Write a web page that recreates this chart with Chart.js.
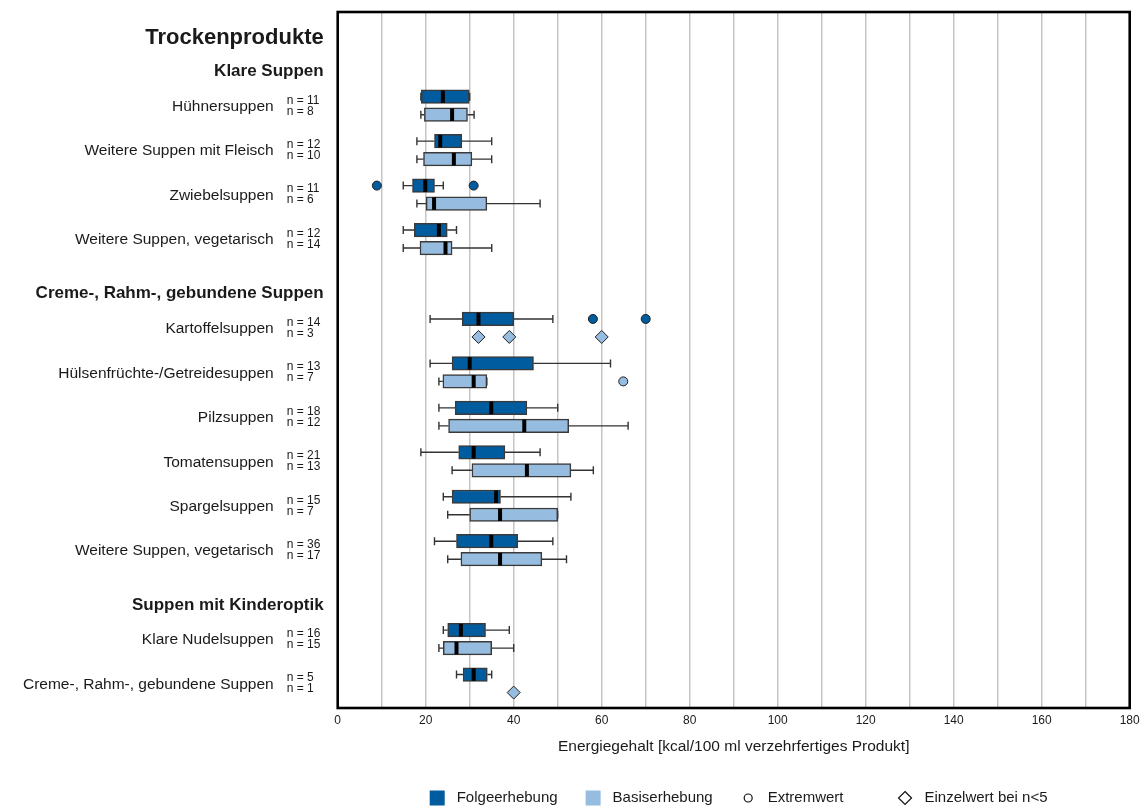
<!DOCTYPE html>
<html lang="de">
<head>
<meta charset="utf-8">
<title>Energiegehalt Trockenprodukte</title>
<script src="https://cdn.jsdelivr.net/npm/chart.js@4/dist/chart.umd.min.js"></script>
<style>
  html, body { margin: 0; padding: 0; background: #ffffff; }
  #wrap { width: 1146px; height: 807px; }
</style>
</head>
<body>
<div id="wrap"><canvas id="c" width="1146" height="807"></canvas></div>
<script>
// ---- Data -----------------------------------------------------------------
const groupTitle = 'Trockenprodukte';
const sections = ['Klare Suppen', 'Creme-, Rahm-, gebundene Suppen', 'Suppen mit Kinderoptik'];
const categories = [
  'Hühnersuppen', 'Weitere Suppen mit Fleisch', 'Zwiebelsuppen', 'Weitere Suppen, vegetarisch',
  'Kartoffelsuppen', 'Hülsenfrüchte-/Getreidesuppen', 'Pilzsuppen', 'Tomatensuppen',
  'Spargelsuppen', 'Weitere Suppen, vegetarisch',
  'Klare Nudelsuppen', 'Creme-, Rahm-, gebundene Suppen'
];
const sectionOf = [0, 0, 0, 0, 1, 1, 1, 1, 1, 1, 2, 2];
const nFolge = [11, 12, 11, 12, 14, 13, 18, 21, 15, 36, 16, 5];
const nBasis = [8, 10, 6, 14, 3, 7, 12, 13, 7, 17, 15, 1];

// Folgeerhebung: five-number summaries
const folgeMin    = [18.9, 18.0, 14.9, 14.9, 21.0, 21.0, 23.0, 18.9, 24.0, 22.0, 24.0, 27.0];
const folgeQ1     = [19.0, 22.0, 17.0, 17.4, 28.3, 26.0, 26.7, 27.5, 26.0, 27.0, 25.0, 28.5];
const folgeMedian = [23.9, 23.3, 19.9, 23.0, 32.0, 30.0, 34.9, 30.9, 36.0, 34.9, 28.0, 30.9];
const folgeQ3     = [29.9, 28.2, 22.0, 24.9, 40.0, 44.5, 43.0, 38.0, 37.0, 40.9, 33.6, 34.0];
const folgeMax    = [30.0, 35.0, 24.0, 27.0, 48.9, 62.0, 50.0, 46.0, 53.0, 48.9, 39.0, 35.0];
const folgeOutlierCat = [2, 2, 4, 4];
const folgeOutlierVal = [8.9, 30.9, 58.0, 70.0];

// Basiserhebung: five-number summaries (null where n < 5)
const basisMin    = [18.9, 18.0, 18.0, 14.9, null, 23.0, 23.0, 26.0, 25.0, 25.0, 23.0, null];
const basisQ1     = [19.7, 19.5, 20.1, 18.7, null, 23.9, 25.2, 30.5, 30.0, 28.0, 24.0, null];
const basisMedian = [26.0, 26.4, 21.9, 24.5, null, 30.9, 42.4, 43.0, 36.9, 36.9, 27.0, null];
const basisQ3     = [29.5, 30.5, 33.9, 26.0, null, 33.9, 52.5, 53.0, 50.0, 46.4, 35.0, null];
const basisMax    = [31.0, 35.0, 46.0, 35.0, null, 33.9, 66.0, 58.1, 50.0, 52.0, 40.0, null];
const basisOutlierCat = [5];
const basisOutlierVal = [64.9];
const basisSingleCat = [4, 4, 4, 11];
const basisSingleVal = [32.0, 39.0, 60.0, 40.0];

const legendLabels = ['Folgeerhebung', 'Basiserhebung', 'Extremwert', 'Einzelwert bei n<5'];
const axisTitle = 'Energiegehalt [kcal/100 ml verzehrfertiges Produkt]';

// ---- Styling / layout -----------------------------------------------------
const FONT = '"Liberation Sans", Arial, Helvetica, sans-serif';
const DARK = '#005c9f';
const LIGHT = '#96bddf';
const EDGE = '#3a3a3a';
const TEXT = '#1a1a1a';
const PAIR = 0.2025;          // offset of the two surveys around a category row
const BOX_H = 13.5;           // box height in px

// one empty row between sections
const slot = i => i + sectionOf[i];

function boxData(q1, q3, sign) {
  const out = [];
  categories.forEach((_, i) => {
    if (q1[i] != null) out.push({ x: [q1[i], q3[i]], y: slot(i) + sign * PAIR });
  });
  return out;
}
function pointData(cats, vals, sign) {
  return cats.map((c, k) => ({ x: vals[k], y: slot(c) + sign * PAIR }));
}

const series = [
  { min: folgeMin, q1: folgeQ1, med: folgeMedian, q3: folgeQ3, max: folgeMax, sign: -1 },
  { min: basisMin, q1: basisQ1, med: basisMedian, q3: basisQ3, max: basisMax, sign: 1 }
];

// whiskers under the boxes, medians on top
const boxplotParts = {
  id: 'boxplotParts',
  beforeDatasetsDraw(chart) {
    const { ctx, scales: { x, y } } = chart;
    ctx.save();
    ctx.strokeStyle = '#333333';
    ctx.lineWidth = 1.4;
    series.forEach(s => {
      categories.forEach((_, i) => {
        if (s.q1[i] == null) return;
        const py = y.getPixelForValue(slot(i) + s.sign * PAIR);
        const xmin = x.getPixelForValue(s.min[i]);
        const xq1 = x.getPixelForValue(s.q1[i]);
        const xq3 = x.getPixelForValue(s.q3[i]);
        const xmax = x.getPixelForValue(s.max[i]);
        ctx.beginPath();
        ctx.moveTo(xmin, py); ctx.lineTo(xq1, py);
        ctx.moveTo(xq3, py); ctx.lineTo(xmax, py);
        ctx.moveTo(xmin, py - 4); ctx.lineTo(xmin, py + 4);
        ctx.moveTo(xmax, py - 4); ctx.lineTo(xmax, py + 4);
        ctx.stroke();
      });
    });
    ctx.restore();
  },
  afterDatasetsDraw(chart) {
    const { ctx, scales: { x, y } } = chart;
    ctx.save();
    ctx.strokeStyle = '#000000';
    ctx.lineWidth = 4;
    series.forEach(s => {
      categories.forEach((_, i) => {
        if (s.med[i] == null) return;
        const py = y.getPixelForValue(slot(i) + s.sign * PAIR);
        const px = x.getPixelForValue(s.med[i]);
        ctx.beginPath();
        ctx.moveTo(px, py - BOX_H / 2 + 0.5);
        ctx.lineTo(px, py + BOX_H / 2 - 0.5);
        ctx.stroke();
      });
    });
    ctx.restore();
  }
};

// plot frame, row labels and legend
const furniture = {
  id: 'furniture',
  afterDraw(chart) {
    const { ctx, chartArea: a, scales: { y } } = chart;
    ctx.save();
    ctx.strokeStyle = '#000000';
    ctx.lineWidth = 2.6;
    ctx.strokeRect(a.left, a.top, a.right - a.left, a.bottom - a.top);

    const L = a.left;
    ctx.fillStyle = TEXT;
    ctx.textBaseline = 'middle';
    ctx.textAlign = 'right';
    ctx.font = 'bold 22px ' + FONT;
    ctx.fillText(groupTitle, L - 14, y.getPixelForValue(-1.52));
    ctx.font = 'bold 17px ' + FONT;
    sections.forEach((s, k) => {
      const first = sectionOf.indexOf(k);
      ctx.fillText(s, L - 14, y.getPixelForValue(slot(first) - 0.77));
    });
    categories.forEach((c, i) => {
      const py = y.getPixelForValue(slot(i));
      ctx.textAlign = 'right';
      ctx.font = '15.5px ' + FONT;
      ctx.fillText(c, L - 64, py + 1);
      ctx.textAlign = 'left';
      ctx.font = '12px ' + FONT;
      ctx.fillText('n = ' + nFolge[i], L - 51, py - 5.5);
      ctx.fillText('n = ' + nBasis[i], L - 51, py + 5.5);
    });

    // legend
    const ly = 798;
    const gaps = [28, 28, 54];
    let lx = L + 92;
    ctx.font = '15px ' + FONT;
    ctx.textAlign = 'left';
    legendLabels.forEach((t, k) => {
      ctx.lineWidth = 1.2;
      ctx.strokeStyle = '#111111';
      if (k < 2) {
        ctx.fillStyle = k === 0 ? DARK : LIGHT;
        ctx.fillRect(lx, ly - 7.5, 15, 15);
      } else if (k === 2) {
        ctx.beginPath();
        ctx.arc(lx + 7.5, ly, 4, 0, Math.PI * 2);
        ctx.stroke();
      } else {
        ctx.beginPath();
        ctx.moveTo(lx + 7.5, ly - 6.5);
        ctx.lineTo(lx + 14, ly);
        ctx.lineTo(lx + 7.5, ly + 6.5);
        ctx.lineTo(lx + 1, ly);
        ctx.closePath();
        ctx.stroke();
      }
      ctx.fillStyle = TEXT;
      const tx = lx + 27;
      ctx.fillText(t, tx, ly);
      lx = tx + ctx.measureText(t).width + (gaps[k] || 0);
    });
    ctx.restore();
  }
};

const boxStyle = {
  type: 'bar',
  borderColor: EDGE,
  borderWidth: 1.5,
  borderSkipped: false,
  grouped: false,
  barPercentage: 1,
  categoryPercentage: 1,
  maxBarThickness: BOX_H
};

new Chart(document.getElementById('c'), {
  type: 'bar',
  data: {
    datasets: [
      Object.assign({ label: 'Folgeerhebung', data: boxData(folgeQ1, folgeQ3, -1), backgroundColor: DARK }, boxStyle),
      Object.assign({ label: 'Basiserhebung', data: boxData(basisQ1, basisQ3, 1), backgroundColor: LIGHT }, boxStyle),
      {
        type: 'scatter', label: 'Extremwert Folgeerhebung',
        data: pointData(folgeOutlierCat, folgeOutlierVal, -1),
        pointStyle: 'circle', pointRadius: 4.5, backgroundColor: DARK, borderColor: '#1f1f1f', borderWidth: 1
      },
      {
        type: 'scatter', label: 'Extremwert Basiserhebung',
        data: pointData(basisOutlierCat, basisOutlierVal, 1),
        pointStyle: 'circle', pointRadius: 4.5, backgroundColor: LIGHT, borderColor: '#1f1f1f', borderWidth: 1
      },
      {
        type: 'scatter', label: 'Einzelwert Basiserhebung',
        data: pointData(basisSingleCat, basisSingleVal, 1),
        pointStyle: 'rectRot', pointRadius: 6.5, backgroundColor: LIGHT, borderColor: '#1f1f1f', borderWidth: 1
      }
    ]
  },
  options: {
    responsive: false,
    animation: false,
    indexAxis: 'y',
    layout: { padding: { left: 337.7, right: 16.3, top: 12, bottom: 0 } },
    plugins: { legend: { display: false }, tooltip: { enabled: false } },
    scales: {
      x: {
        type: 'linear', position: 'bottom', min: 0, max: 180,
        ticks: {
          stepSize: 10, autoSkip: false, maxRotation: 0, padding: 5, color: TEXT,
          font: { family: FONT, size: 12 },
          callback: v => (v % 20 === 0 ? String(v) : '')
        },
        grid: { color: '#c4c4c4', lineWidth: 1.5, drawTicks: false },
        border: { display: false },
        title: {
          display: true, text: axisTitle, color: TEXT,
          font: { family: FONT, size: 15.5 }, padding: { top: 0, bottom: 50.7 }
        },
        afterFit: s => { s.height = 99; }
      },
      y: { type: 'linear', min: -2.108, max: 13.55, reverse: true, display: false, offset: false }
    }
  },
  plugins: [boxplotParts, furniture]
});
</script>
</body>
</html>
